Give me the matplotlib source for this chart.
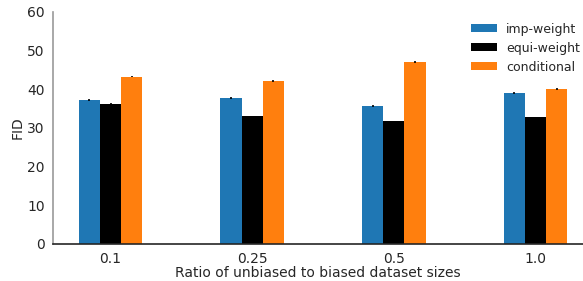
import matplotlib
matplotlib.use("Agg")
import matplotlib.pyplot as plt
import numpy as np

categories = ["0.1", "0.25", "0.5", "1.0"]
series_names = ["imp-weight", "equi-weight", "conditional"]
imp_weight = [37.2, 37.8, 35.7, 39.0]
equi_weight = [36.3, 33.1, 31.8, 32.8]
conditional = [43.3, 42.2, 47.1, 40.1]
imp_err = [0.2, 0.2, 0.2, 0.25]
equi_err = [0.1, 0.1, 0.1, 0.1]
cond_err = [0.2, 0.2, 0.2, 0.25]

colors = ["#1f77b4", "#000000", "#ff7f0e"]
text_color = "#262626"

fig = plt.figure(figsize=(5.83, 2.81), dpi=100)
ax = fig.add_axes([0.0909, 0.1317, 0.9091, 0.8256])

x = np.arange(len(categories))
w = 0.15
for i, (vals, errs, name) in enumerate(zip([imp_weight, equi_weight, conditional],
                                          [imp_err, equi_err, cond_err], series_names)):
    ax.bar(x + (i - 1) * w, vals, w, color=colors[i], label=name,
           yerr=errs, error_kw=dict(ecolor="black", elinewidth=1.2, capsize=0))

ax.set_xlim(-0.406, 3.335)
ax.set_ylim(0, 60)
ax.set_xticks(x)
ax.set_xticklabels(categories)
ax.set_yticks(np.arange(0, 61, 10))
ax.tick_params(axis="both", length=0, labelsize=10, colors=text_color, pad=6)
ax.set_xlabel("Ratio of unbiased to biased dataset sizes", fontsize=10, color=text_color, labelpad=0)
ax.set_ylabel("FID", fontsize=10, color=text_color, labelpad=2)

for s in ["top", "right"]:
    ax.spines[s].set_visible(False)
ax.spines["left"].set_color("#999999")
ax.spines["left"].set_linewidth(1.2)
ax.spines["bottom"].set_color("#262626")
ax.spines["bottom"].set_linewidth(1.2)

leg = ax.legend(loc="upper right", frameon=False, fontsize=9, labelcolor=text_color,
                handlelength=2.1, handleheight=0.55, labelspacing=0.48, handletextpad=0.75,
                borderaxespad=0.0, bbox_to_anchor=(1.004, 0.976))

fig.savefig("out.png", dpi=100)
